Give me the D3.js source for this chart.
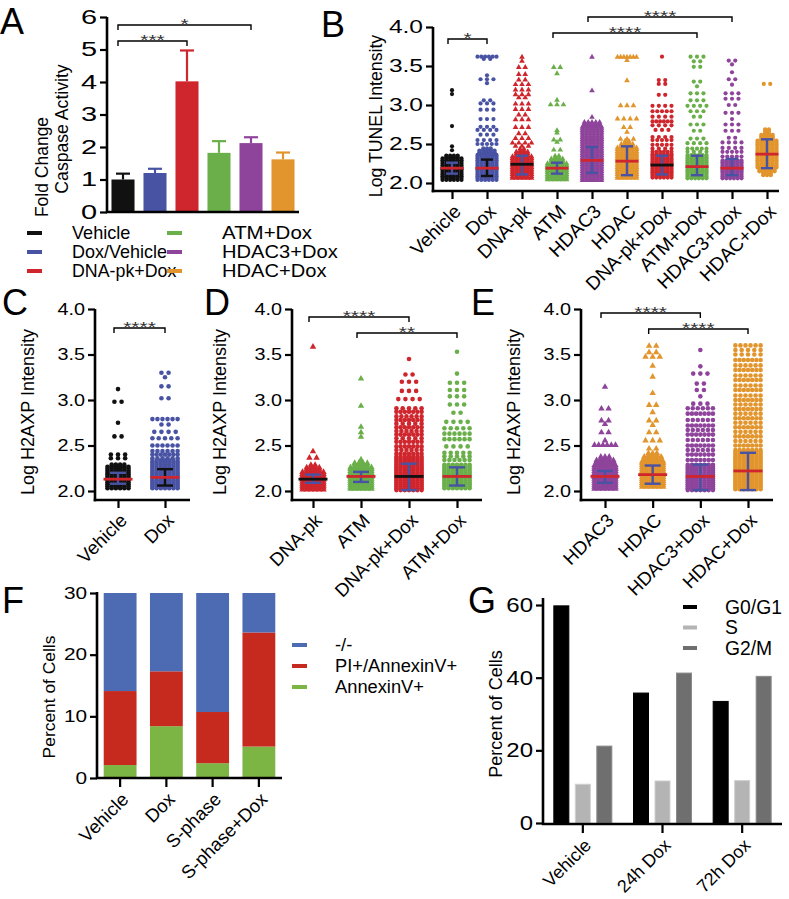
<!DOCTYPE html>
<html><head><meta charset="utf-8">
<script src="https://cdn.jsdelivr.net/npm/d3@7"></script>
<style>body{margin:0;background:#fff}svg{display:block}</style>
</head><body>
<svg id="c" width="789" height="899"></svg>
<script>
// ---------------- DATA ----------------
// Panel A
const A_categories = ["Vehicle","Dox/Vehicle","DNA-pk+Dox","ATM+Dox","HDAC3+Dox","HDAC+Dox"];
const A_mean = [1.0, 1.2, 4.02, 1.82, 2.12, 1.62];
const A_sem  = [0.18, 0.13, 0.95, 0.36, 0.18, 0.21];
const A_ticks = [0,1,2,3,4,5,6];

// Panel B (Log TUNEL Intensity)
const B_categories = ["Vehicle","Dox","DNA-pk","ATM","HDAC3","HDAC","DNA-pk+Dox","ATM+Dox","HDAC3+Dox","HDAC+Dox"];
const B_median = [2.19,2.19,2.24,2.19,2.29,2.28,2.23,2.21,2.19,2.37];
const B_errLow = [2.12,2.09,2.11,2.12,2.13,2.10,2.11,2.10,2.10,2.19];
const B_errHigh= [2.26,2.30,2.35,2.26,2.46,2.47,2.35,2.35,2.31,2.56];
// dense cloud silhouette: [from, to, dots per row]
const B_bulk = [
  [[2.04,2.33,6],[2.33,2.36,4]],
  [[2.04,2.37,6],[2.37,2.42,5],[2.42,2.46,3]],
  [[2.07,2.36,6],[2.36,2.42,4],[2.42,2.46,2]],
  [[2.05,2.27,6],[2.27,2.33,4],[2.33,2.37,2]],
  [[2.04,2.74,6],[2.74,2.79,5]],
  [[2.07,2.46,6],[2.46,2.52,4],[2.52,2.56,2]],
  [[2.07,2.37,6]],
  [[2.06,2.36,6]],
  [[2.06,2.30,6]],
  [[2.10,2.15,3],[2.15,2.20,5],[2.20,2.55,6],[2.55,2.62,4],[2.62,2.70,2]]
];
// sparse points: [value, number of dots at that value]
const B_points = [
  [[2.42,1],[2.47,1],[2.73,1],[3.14,1],[3.19,1]],
  [[2.5,5],[2.55,4],[2.62,3],[2.68,4],[2.72,3],[2.82,3],[2.94,3],[3.02,3],[3.06,2],[3.28,1],[3.33,3],[3.38,1],[3.59,2],[3.62,6]],
  [[2.48,3],[2.52,4],[2.58,3],[2.64,2],[2.72,3],[2.82,3],[2.88,2],[2.95,3],[3.02,3],[3.1,2],[3.14,3],[3.2,3],[3.27,3],[3.33,2],[3.4,2],[3.49,2],[3.57,1],[3.62,1]],
  [[2.43,2],[2.53,1],[2.56,2],[2.65,1],[2.68,1],[3.01,3],[3.07,1],[3.41,1],[3.49,2]],
  [[2.85,1],[3.19,1],[3.62,1]],
  [[2.57,3],[2.66,1],[2.72,2],[2.83,4],[3.0,3],[3.32,1],[3.58,1],[3.62,7]],
  [[2.4,6],[2.44,4],[2.49,5],[2.55,5],[2.59,4],[2.68,3],[2.74,4],[2.79,6],[2.85,4],[2.92,5],[2.99,4],[3.13,2],[3.27,2],[3.32,2],[3.62,1]],
  [[2.4,4],[2.44,5],[2.51,4],[2.57,3],[2.67,2],[2.75,3],[2.85,2],[2.92,3],[2.99,4],[3.06,3],[3.15,3],[3.24,1],[3.3,2],[3.49,2],[3.56,2],[3.62,3]],
  [[2.34,5],[2.4,5],[2.45,4],[2.52,4],[2.58,2],[2.67,3],[2.75,3],[2.82,1],[2.9,3],[3.0,2],[3.08,3],[3.15,3],[3.26,1],[3.33,2],[3.42,1],[3.52,1],[3.57,2]],
  [[3.27,2]]
];

// Panel C (Log H2AXP Intensity)
const C_categories = ["Vehicle","Dox"];
const C_median = [2.13,2.15];
const C_errLow = [2.08,2.06];
const C_errHigh= [2.20,2.24];
const C_bulk = [
  [[2.03,2.27,6],[2.27,2.31,4]],
  [[2.03,2.34,7]]
];
const C_points = [
  [[2.36,3],[2.4,3],[2.6,2],[2.75,1],[2.98,2],[3.12,1]],
  [[2.36,6],[2.4,7],[2.44,6],[2.5,6],[2.58,5],[2.65,4],[2.73,2],[2.79,6],[3.02,2],[3.15,2],[3.25,1],[3.3,2]]
];

// Panel D
const D_categories = ["DNA-pk","ATM","DNA-pk+Dox","ATM+Dox"];
const D_median = [2.13,2.16,2.16,2.16];
const D_errLow = [2.09,2.10,2.01,2.06];
const D_errHigh= [2.18,2.21,2.30,2.26];
const D_bulk = [
  [[2.02,2.22,6],[2.22,2.27,4],[2.27,2.31,2]],
  [[2.03,2.27,6],[2.27,2.33,4],[2.33,2.37,1]],
  [[2.01,2.38,7]],
  [[2.03,2.30,7]]
];
const D_points = [
  [[2.37,2],[2.44,1],[3.59,1]],
  [[2.6,1],[2.65,1],[2.71,1],[2.94,1],[3.24,1]],
  [[2.41,7],[2.45,6],[2.49,7],[2.54,7],[2.58,5],[2.62,7],[2.66,6],[2.7,7],[2.74,5],[2.78,7],[2.82,6],[2.87,7],[2.91,5],[3.01,4],[3.1,3],[3.2,3],[3.28,2],[3.45,1]],
  [[2.34,6],[2.38,5],[2.42,5],[2.49,4],[2.57,6],[2.63,6],[2.69,5],[2.76,4],[2.86,2],[2.95,3],[3.04,3],[3.11,3],[3.19,3],[3.29,1],[3.53,1]]
];

// Panel E
const E_categories = ["HDAC3","HDAC","HDAC3+Dox","HDAC+Dox"];
const E_median = [2.16,2.18,2.16,2.22];
const E_errLow = [2.09,2.08,2.01,2.01];
const E_errHigh= [2.22,2.28,2.29,2.42];
const E_bulk = [
  [[2.03,2.30,6],[2.30,2.36,5],[2.36,2.40,3]],
  [[2.05,2.34,6],[2.34,2.40,5],[2.40,2.43,3]],
  [[2.01,2.30,7]],
  [[2.02,2.45,7]]
];
const E_points = [
  [[2.51,6],[2.56,1],[2.65,2],[2.74,1],[2.78,2],[2.91,2],[3.15,1]],
  [[2.47,2],[2.56,3],[2.65,2],[2.73,1],[2.78,2],[2.87,1],[2.95,2],[3.08,1],[3.26,1],[3.38,1],[3.48,3],[3.53,2],[3.6,2]],
  [[2.34,7],[2.4,7],[2.45,6],[2.5,7],[2.56,6],[2.62,7],[2.67,6],[2.72,7],[2.78,6],[2.85,7],[2.91,6],[2.96,3],[3.04,1],[3.11,2],[3.18,2],[3.29,3],[3.37,1],[3.55,1]],
  [[2.5,7],[2.55,6],[2.6,7],[2.65,6],[2.7,7],[2.75,6],[2.8,7],[2.85,6],[2.9,7],[2.95,6],[3.0,7],[3.05,6],[3.11,7],[3.16,6],[3.22,7],[3.27,6],[3.33,7],[3.38,6],[3.44,7],[3.5,5],[3.55,5],[3.6,6]]
];
const logTicks = [2.0,2.5,3.0,3.5,4.0];

// Panel F
const F_categories = ["Vehicle","Dox","S-phase","S-phase+Dox"];
const F_annexin   = [2.1, 8.4, 2.4, 5.1];
const F_piAnnexin = [12.0, 8.9, 8.3, 18.5];
const F_negNeg    = [85.9, 82.7, 89.3, 76.4];
const F_series = ["AnnexinV+","PI+/AnnexinV+","-/-"];
const F_ticks = [0,10,20,30];

// Panel G
const G_categories = ["Vehicle","24h Dox","72h Dox"];
const G_series = ["G0/G1","S","G2/M"];
const G_g0g1 = [59.9, 35.9, 33.6];
const G_s    = [10.8, 11.7, 11.8];
const G_g2m  = [21.3, 41.4, 40.5];
const G_ticks = [0,20,40,60];

// ---------------- STYLE ----------------
const FONT = '"Liberation Sans", Arial, Helvetica, sans-serif';
const COL = {black:"#111111", blue:"#4953a4", red:"#cf252c", green:"#6aaf4a", purple:"#8f449b", orange:"#e2952c"};
const catColor = {"Vehicle":COL.black,"Dox":COL.blue,"Dox/Vehicle":COL.blue,"DNA-pk":COL.red,"ATM":COL.green,"HDAC3":COL.purple,"HDAC":COL.orange,
  "DNA-pk+Dox":COL.red,"ATM+Dox":COL.green,"HDAC3+Dox":COL.purple,"HDAC+Dox":COL.orange};
const triangleCats = new Set(["DNA-pk","ATM","HDAC3","HDAC"]);
const blackMedianCats = new Set(["DNA-pk","DNA-pk+Dox"]);
const blackErrCats = new Set(["Dox"]);

// Helvetica/Arial advance widths (1/1000 em) used to normalise text widths
const AW = {" ":278,"*":389,"+":584,"-":333,".":278,"/":278,
  "A":667,"B":667,"C":722,"D":722,"E":667,"F":611,"G":778,"H":722,"I":278,"K":667,"L":556,"M":833,"N":722,"O":778,"P":667,"S":667,"T":611,"U":722,"V":667,"X":667,
  "a":556,"c":500,"d":556,"e":556,"f":278,"g":556,"h":556,"i":222,"k":500,"l":222,"n":556,"o":556,"p":556,"r":333,"s":500,"t":278,"v":500,"x":500,"y":500};
function emW(s){ let t=0; for(const ch of s) t += (AW[ch]!==undefined?AW[ch]:556); return t/1000; }
function fit(sel, size, stretch){
  sel.each(function(){ const s=this.textContent;
    this.setAttribute("textLength", (emW(s)*size*(stretch||1)).toFixed(1));
    this.setAttribute("lengthAdjust","spacingAndGlyphs"); });
}

const svg = d3.select("#c");

function txt(g, x, y, s, size, opts={}) {
  const t = g.append("text").attr("x",x).attr("y",y).text(s)
    .attr("font-family",FONT).attr("font-size",size).attr("fill",opts.fill||"#000");
  if (opts.anchor) t.attr("text-anchor",opts.anchor);
  if (opts.transform) t.attr("transform",opts.transform);
  if (opts.dy) t.attr("dy",opts.dy);
  fit(t, size, opts.stretch||1);
  return t;
}
function vline(g,x,y1,y2,w){g.append("line").attr("x1",x).attr("x2",x).attr("y1",y1).attr("y2",y2).attr("stroke","#000").attr("stroke-width",w||2.6);}
function hline(g,y,x1,x2,w){g.append("line").attr("x1",x1).attr("x2",x2).attr("y1",y).attr("y2",y).attr("stroke","#000").attr("stroke-width",w||2.6);}

function leftAxis(g, scale, ticks, x, fmt, fs, stretch) {
  const ax = g.append("g").attr("transform",`translate(${x},0)`)
    .call(d3.axisLeft(scale).tickValues(ticks).tickSize(7).tickSizeOuter(0).tickPadding(3).tickFormat(fmt));
  ax.select(".domain").remove();
  ax.selectAll(".tick line").attr("stroke","#000").attr("stroke-width",2.2);
  const t = ax.selectAll(".tick text").attr("font-size",fs).attr("font-family",FONT).attr("fill","#000");
  fit(t, fs, stretch);
}
function bottomTicks(g, scale, cats, y, fs, dx, dyOff, tickLen) {
  const ax = g.append("g").attr("transform",`translate(0,${y})`)
    .call(d3.axisBottom(scale).tickValues(cats).tickSize(tickLen).tickSizeOuter(0));
  ax.select(".domain").remove();
  ax.selectAll(".tick line").attr("stroke","#000").attr("stroke-width",2.2);
  const t = ax.selectAll(".tick text").attr("font-size",fs).attr("font-family",FONT).attr("fill","#000")
    .attr("text-anchor","end").attr("x",0).attr("y",0).attr("dy","0.35em")
    .attr("transform",`translate(${dx},${dyOff}) rotate(-45)`);
  fit(t, fs, 1);
}
function letter(g,s,x,y){ txt(g,x,y,s,36); }
function bracket(g,x1,x2,y,label){
  g.append("path").attr("d",`M${x1},${y+5}V${y}H${x2}V${y+5}`).attr("fill","none").attr("stroke","#000").attr("stroke-width",1.4);
  txt(g,(x1+x2)/2,y+4,label,15,{anchor:"middle",fill:"#333",stretch:1.4});
}

// ---------------- PANEL A ----------------
{
  const g = svg.append("g");
  const x = d3.scaleBand().domain(A_categories).range([107,299]).paddingInner(0.28).paddingOuter(0.14);
  const y = d3.scaleLinear().domain([0,6]).range([212,17]);
  g.selectAll("rect.bar").data(A_categories).join("rect").attr("class","bar")
    .attr("x",d=>x(d)).attr("width",x.bandwidth())
    .attr("y",(d,i)=>y(A_mean[i])).attr("height",(d,i)=>y(0)-y(A_mean[i]))
    .attr("fill",d=>catColor[d]);
  A_categories.forEach((d,i)=>{
    const cx = x(d)+x.bandwidth()/2, top=y(A_mean[i]+A_sem[i]);
    g.append("line").attr("x1",cx).attr("x2",cx).attr("y1",y(A_mean[i])).attr("y2",top).attr("stroke",catColor[d]).attr("stroke-width",2.2);
    g.append("line").attr("x1",cx-7).attr("x2",cx+7).attr("y1",top).attr("y2",top).attr("stroke",catColor[d]).attr("stroke-width",2.2);
  });
  leftAxis(g,y,A_ticks,107,d3.format("d"),20,1.45);
  vline(g,107,17,213); hline(g,212,106,299);
  const cx = i=>x(A_categories[i])+x.bandwidth()/2;
  bracket(g,cx(0)-5,cx(2),41,"***");
  bracket(g,cx(0)-5,cx(4),25,"*");
  txt(g,0,0,"Fold Change",17.5,{anchor:"middle",transform:"translate(42,167) rotate(-90)",dy:"0.35em"});
  txt(g,0,0,"Caspase Activity",17.5,{anchor:"middle",transform:"translate(62,129) rotate(-90)",dy:"0.35em"});
  // legend
  A_categories.forEach((d,i)=>{
    const col = Math.floor(i/3), row = i%3;
    const lx = col===0?27:167, tx = col===0?72:222, ly = 233+row*19;
    g.append("line").attr("x1",lx).attr("x2",lx+15).attr("y1",ly).attr("y2",ly).attr("stroke",catColor[d]).attr("stroke-width",4);
    txt(g,tx,ly,d,17.8,{dy:"0.35em",stretch:col===0?1.0:1.13});
  });
  letter(g,"A",0,34);
}

// ---------------- SCATTER PANELS ----------------
function swarmPanel(cfg){
  const g = svg.append("g");
  const y = d3.scaleLinear().domain([2,4]).range([cfg.y2,cfg.y4]);
  const x = d3.scalePoint().domain(cfg.cats).range([cfg.xFirst,cfg.xLast]);
  const r = cfg.r, pitch = cfg.pitch;
  cfg.cats.forEach((cat,i)=>{
    const cx = x(cat), color = catColor[cat];
    const maxN = d3.max(cfg.bulk[i],d=>d[2]);
    const pts = [];
    cfg.bulk[i].forEach(([lo,hi,n])=>{
      for(let py=y(lo); py>=y(hi)-0.01; py-=r*0.85){
        for(let k=0;k<n;k++) pts.push([cx+(k-(n-1)/2)*pitch, py]);
      }
    });
    const full = (Math.max(maxN,6)-1)*pitch;
    cfg.points[i].forEach(([v,n])=>{
      const sp = n>1 ? Math.min(pitch*1.7, full/(n-1)) : 0;
      for(let k=0;k<n;k++) pts.push([cx+(k-(n-1)/2)*sp, y(v)]);
    });
    if (triangleCats.has(cat)) {
      const sym = d3.symbol().type(d3.symbolTriangle).size(cfg.tri);
      g.append("g").selectAll("path").data(pts).join("path").attr("d",sym)
        .attr("transform",d=>`translate(${d[0]},${d[1]+0.5})`).attr("fill",color);
    } else {
      g.append("g").selectAll("circle").data(pts).join("circle")
        .attr("cx",d=>d[0]).attr("cy",d=>d[1]).attr("r",r).attr("fill",color);
    }
    const ec = blackErrCats.has(cat)?"#111":COL.blue;
    const mc = blackMedianCats.has(cat)?"#111":COL.red;
    const lo=y(cfg.lo[i]), hi=y(cfg.hi[i]);
    g.append("line").attr("x1",cx).attr("x2",cx).attr("y1",lo).attr("y2",hi).attr("stroke",ec).attr("stroke-width",2.4);
    [lo,hi].forEach(yy=>g.append("line").attr("x1",cx-cfg.cap).attr("x2",cx+cfg.cap).attr("y1",yy).attr("y2",yy).attr("stroke",ec).attr("stroke-width",2.4));
    g.append("line").attr("x1",cx-cfg.mhw).attr("x2",cx+cfg.mhw).attr("y1",y(cfg.med[i])).attr("y2",y(cfg.med[i])).attr("stroke",mc).attr("stroke-width",2.8);
  });
  leftAxis(g,y,logTicks,cfg.axisX,d3.format(".1f"),cfg.tfs,cfg.tst);
  vline(g,cfg.axisX,cfg.y4,cfg.axisY+1.3);
  hline(g,cfg.axisY,cfg.axisX-1.3,cfg.xEnd);
  bottomTicks(g,x,cfg.cats,cfg.axisY,cfg.cfs,cfg.ldx,cfg.ldy,8);
  cfg.brackets.forEach(([a,b,yy,s])=>bracket(g,x(cfg.cats[a])-4,x(cfg.cats[b]),yy,s));
  txt(g,0,0,cfg.title,cfg.titleFs,{anchor:"middle",transform:`translate(${cfg.titleX},${cfg.titleY}) rotate(-90)`,dy:"0.35em"});
  letter(g,cfg.letter,cfg.lx,cfg.ly);
}

swarmPanel({cats:B_categories,bulk:B_bulk,points:B_points,med:B_median,lo:B_errLow,hi:B_errHigh,
  y2:183,y4:27,xFirst:452,xLast:767,axisX:433,axisY:191,xEnd:779,r:2.1,pitch:3.8,tri:14,cap:6,mhw:11.5,
  tfs:17.5,tst:1.4,cfs:19,ldx:5,ldy:17,title:"Log TUNEL Intensity",titleFs:17.6,titleX:376,titleY:116,letter:"B",lx:321,ly:37,
  brackets:[[0,1,39,"*"],[3,7,33,"****"],[4,8,17,"****"]]});
swarmPanel({cats:C_categories,bulk:C_bulk,points:C_points,med:C_median,lo:C_errLow,hi:C_errHigh,
  y2:491,y4:309,xFirst:118,xLast:165,axisX:95,axisY:500,xEnd:190,r:2.3,pitch:4.2,tri:18,cap:8,mhw:14.5,
  tfs:16.5,tst:1.2,cfs:18.5,ldx:5,ldy:17,title:"Log H2AXP Intensity",titleFs:18,titleX:28,titleY:412,letter:"C",lx:2,ly:315,
  brackets:[[0,1,328,"****"]]});
swarmPanel({cats:D_categories,bulk:D_bulk,points:D_points,med:D_median,lo:D_errLow,hi:D_errHigh,
  y2:491,y4:309,xFirst:313,xLast:457,axisX:292,axisY:500,xEnd:482,r:2.3,pitch:4.2,tri:18,cap:8,mhw:14.5,
  tfs:16.5,tst:1.2,cfs:18.5,ldx:5,ldy:17,title:"Log H2AXP Intensity",titleFs:18,titleX:220,titleY:412,letter:"D",lx:204,ly:315,
  brackets:[[0,2,317,"****"],[1,3,333,"**"]]});
swarmPanel({cats:E_categories,bulk:E_bulk,points:E_points,med:E_median,lo:E_errLow,hi:E_errHigh,
  y2:491,y4:309,xFirst:605,xLast:748,axisX:581,axisY:500,xEnd:773,r:2.3,pitch:4.2,tri:18,cap:8,mhw:14.5,
  tfs:16.5,tst:1.2,cfs:18.5,ldx:5,ldy:17,title:"Log H2AXP Intensity",titleFs:18,titleX:514,titleY:412,letter:"E",lx:471,ly:315,
  brackets:[[0,2,313,"****"],[1,3,329,"****"]]});

// ---------------- PANEL F ----------------
{
  const g = svg.append("g");
  const x = d3.scaleBand().domain(F_categories).range([97,282]).paddingInner(0.29).paddingOuter(0.145);
  const y = d3.scaleLinear().domain([0,30]).range([778,593]).clamp(true);
  const rows = F_categories.map((c,i)=>({cat:c,"AnnexinV+":F_annexin[i],"PI+/AnnexinV+":F_piAnnexin[i],"-/-":F_negNeg[i]}));
  const stack = d3.stack().keys(F_series)(rows);
  const fcol = {"AnnexinV+":"#7db544","PI+/AnnexinV+":"#c62a1e","-/-":"#4d6bb3"};
  stack.forEach(s=>{
    g.append("g").selectAll("rect").data(s).join("rect")
      .attr("x",d=>x(d.data.cat)).attr("width",x.bandwidth())
      .attr("y",d=>y(d[1])).attr("height",d=>y(d[0])-y(d[1])).attr("fill",fcol[s.key]);
  });
  leftAxis(g,y,F_ticks,97,d3.format("d"),16,1.3);
  vline(g,97,592,779); hline(g,778,96,282);
  bottomTicks(g,x,F_categories,778,18.5,5,18,9);
  txt(g,0,0,"Percent of Cells",17.4,{anchor:"middle",transform:"translate(49,697) rotate(-90)",dy:"0.35em"});
  ["-/-","PI+/AnnexinV+","AnnexinV+"].forEach((k,i)=>{
    const ly = 645+i*21;
    g.append("line").attr("x1",292).attr("x2",307).attr("y1",ly).attr("y2",ly).attr("stroke",fcol[k]).attr("stroke-width",4);
    txt(g,335,ly,k,18.3,{dy:"0.35em"});
  });
  letter(g,"F",2,613);
}

// ---------------- PANEL G ----------------
{
  const g = svg.append("g");
  const x0 = d3.scaleBand().domain(G_categories).range([543,782]);
  const x1 = d3.scaleBand().domain(G_series).range([-32.25,32.25]).paddingInner(0.256).paddingOuter(0.128);
  const y = d3.scaleLinear().domain([0,60]).range([823,605]);
  const vals = {"G0/G1":G_g0g1,"S":G_s,"G2/M":G_g2m};
  const gfill = {"G0/G1":"#000000","S":"#b4b4b4","G2/M":"#6f6f6f"};
  const gstroke = {"G0/G1":"#000000","S":"#cfcfcf","G2/M":"#8a8a8a"};
  G_categories.forEach((c,i)=>{
    const cx = x0(c)+x0.bandwidth()/2;
    g.append("g").selectAll("rect").data(G_series).join("rect")
      .attr("x",s=>cx+x1(s)+0.5).attr("width",x1.bandwidth()-1)
      .attr("y",s=>y(vals[s][i])+0.5).attr("height",s=>y(0)-y(vals[s][i])-0.5)
      .attr("fill",s=>gfill[s]).attr("stroke",s=>gstroke[s]).attr("stroke-width",1);
  });
  leftAxis(g,y,G_ticks,543,d3.format("d"),20,1.2);
  vline(g,543,598,825); hline(g,824,542,782);
  bottomTicks(g,x0,G_categories,824,18,5,18,9);
  txt(g,0,0,"Percent of Cells",18.1,{anchor:"middle",transform:"translate(496,714) rotate(-90)",dy:"0.35em"});
  G_series.forEach((k,i)=>{
    const ly = 607+i*20.5;
    g.append("line").attr("x1",683).attr("x2",697).attr("y1",ly).attr("y2",ly).attr("stroke",gfill[k]).attr("stroke-width",4);
    txt(g,725,ly,k,19.3,{dy:"0.35em"});
  });
  letter(g,"G",468,613);
}
</script>
</body></html>
